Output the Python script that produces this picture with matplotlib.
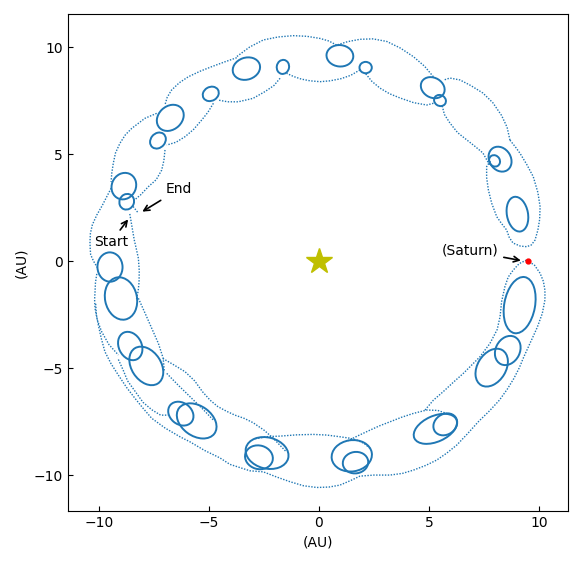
import matplotlib
matplotlib.use("Agg")
import matplotlib.pyplot as plt
from matplotlib.patches import Ellipse

# ---- data (AU) ----
# small solid loops: centre x, centre y, long axis, short axis, tilt of long axis (deg)
loop_x = [-8.87, -8.74, -6.76, -7.32, -4.92, -3.30, -1.64, 0.95, 2.12, 5.17, 5.50, 8.23, 7.98, 9.02,
          -9.50, -9.00, -8.58, -7.85, -6.28, -5.56, -2.73, -2.36, 1.66, 1.49, 5.74, 5.29, 8.58, 7.85, 9.12]
loop_y = [3.50, 2.77, 6.69, 5.63, 7.81, 8.99, 9.07, 9.59, 9.04, 8.10, 7.50, 4.76, 4.68, 2.19,
          -0.28, -1.75, -3.97, -4.90, -7.13, -7.47, -9.17, -8.97, -9.42, -9.10, -7.63, -7.84, -4.18, -4.98, -2.06]
loop_long = [1.26, 0.74, 1.35, 0.80, 0.76, 1.27, 0.66, 1.22, 0.56, 1.14, 0.56, 1.22, 0.55, 1.64,
             1.37, 2.00, 1.38, 1.95, 1.25, 2.00, 1.28, 1.98, 1.16, 1.84, 1.15, 2.10, 1.42, 1.90, 2.66]
loop_short = [1.10, 0.66, 1.08, 0.66, 0.64, 1.02, 0.56, 1.00, 0.53, 0.92, 0.50, 0.98, 0.48, 0.96,
              1.14, 1.45, 1.04, 1.35, 1.00, 1.40, 1.10, 1.45, 1.00, 1.46, 0.95, 1.20, 1.10, 1.30, 1.40]
loop_tilt = [68, 70, 45, 52, 32, 20, 80, -6, 0, -32, -36, -60, -60, 100,
             92, 101, 115, 122, 139, 143, 163, 165, 10, 9, 37, 25, 64, 60, 80]

# dotted arcs (fast parts of the path)
arc_ur_turn = [(8.68, 5.65), (8.95, 5.30), (9.14, 5.03), (9.45, 4.50), (9.74, 3.94), (9.95, 3.20),
               (10.05, 2.54), (10.03, 1.95), (9.95, 1.45), (9.82, 0.98), (9.65, 0.75), (9.44, 0.67),
               (9.15, 0.70), (8.82, 0.84), (8.65, 1.10), (8.53, 1.45), (8.30, 1.75), (8.08, 2.07),
               (7.85, 2.70), (7.70, 3.32), (7.62, 3.90), (7.62, 4.41), (7.80, 4.70)]
arc_b6_b5 = [(8.68, 5.65), (8.55, 6.25), (8.30, 6.80), (7.90, 7.40), (7.45, 7.85), (6.90, 8.20),
             (6.41, 8.46), (5.95, 8.55), (5.65, 8.45)]
arc_b5_b4 = [(5.20, 8.61), (4.80, 9.10), (4.29, 9.55), (3.70, 9.95), (3.08, 10.26), (2.45, 10.38),
             (1.86, 10.36), (1.30, 10.25), (0.80, 10.09)]
arc_b4_b3 = [(0.80, 10.09), (0.45, 10.28), (0.05, 10.40), (-0.55, 10.50), (-1.17, 10.53),
             (-1.85, 10.47), (-2.53, 10.33), (-3.15, 10.00), (-3.74, 9.55)]
arc_b3_b2 = [(-3.74, 9.50), (-4.30, 9.30), (-4.88, 9.08), (-5.40, 8.87), (-5.94, 8.61), (-6.35, 8.33),
             (-6.70, 7.99), (-6.90, 7.65), (-7.00, 7.30)]
arc_b2_b1 = [(-7.38, 6.90), (-7.91, 6.67), (-8.51, 6.20), (-8.80, 5.90), (-9.05, 5.50), (-9.25, 5.05),
             (-9.35, 4.57), (-9.42, 4.10), (-9.45, 3.70)]
arc_b1_l1 = [(-9.45, 3.40), (-9.65, 3.00), (-9.85, 2.60), (-10.10, 2.15), (-10.30, 1.70), (-10.39, 1.30),
             (-10.41, 0.90), (-10.40, 0.60), (-10.38, 0.30), (-10.25, 0.00), (-10.08, -0.30)]
arc_s7_s6 = [(7.75, 4.50), (7.45, 5.05), (7.10, 5.35), (6.73, 5.65), (6.30, 6.00), (5.95, 6.45),
             (5.70, 6.85), (5.60, 7.25)]
arc_s6_s5 = [(5.20, 7.37), (4.90, 7.29), (4.30, 7.40), (3.68, 7.62), (3.20, 7.82), (2.77, 8.08),
             (2.40, 8.40), (2.10, 8.78)]
arc_s5_s4 = [(1.86, 8.93), (1.45, 8.68), (1.00, 8.52), (0.50, 8.42), (0.05, 8.38), (-0.40, 8.42),
             (-0.80, 8.50), (-1.15, 8.62), (-1.47, 8.77)]
arc_s4_s3 = [(-1.77, 8.54), (-2.05, 8.20), (-2.45, 7.92), (-3.00, 7.60), (-3.67, 7.44), (-4.15, 7.44),
             (-4.58, 7.52)]
arc_s3_s2 = [(-4.80, 7.37), (-5.05, 6.95), (-5.33, 6.59), (-5.70, 6.15), (-6.09, 5.81), (-6.50, 5.55),
             (-6.92, 5.42)]
arc_s2_s1 = [(-7.00, 5.19), (-7.05, 4.70), (-7.15, 4.25), (-7.40, 3.80), (-7.76, 3.47), (-8.10, 3.10),
             (-8.39, 2.85)]
arc_end = [(-8.45, 2.55), (-8.22, 2.25)]
arc_start = [(-8.60, 2.20), (-8.50, 1.60), (-8.40, 1.00), (-8.30, 0.55), (-8.21, 0.13), (-8.17, -0.45),
             (-8.18, -1.00), (-8.22, -1.40), (-8.30, -1.80)]
arc_l1_l2_out = [(-10.10, -0.60), (-10.16, -1.00), (-10.18, -1.43), (-10.20, -1.80), (-10.18, -2.21),
                 (-10.08, -2.75), (-9.88, -3.30), (-9.55, -3.90), (-9.12, -4.39)]
arc_outer_low = [(-10.15, -2.00), (-10.12, -2.50), (-10.03, -2.99), (-9.90, -3.60), (-9.73, -4.24),
                 (-9.45, -4.80), (-9.12, -5.33), (-8.75, -5.90), (-8.36, -6.42), (-7.98, -6.90),
                 (-7.60, -7.35), (-7.00, -7.80), (-6.32, -8.21), (-5.86, -8.45), (-5.20, -8.85),
                 (-4.50, -9.20), (-4.05, -9.50), (-3.14, -9.80), (-2.53, -9.85), (-1.90, -10.10),
                 (-1.32, -10.31), (-0.70, -10.50), (-0.10, -10.58), (0.45, -10.56), (0.95, -10.47),
                 (1.45, -10.25), (1.86, -10.05), (2.50, -10.00), (3.23, -10.00), (3.80, -9.92),
                 (4.29, -9.77), (4.85, -9.55), (5.35, -9.30), (5.80, -8.98), (6.26, -8.60),
                 (6.75, -8.07), (7.25, -7.50), (7.75, -7.00), (8.20, -6.50), (8.55, -6.00),
                 (8.85, -5.50), (9.10, -5.00), (9.30, -4.50), (9.50, -4.05), (9.70, -3.60),
                 (9.92, -3.10), (10.15, -2.45), (10.27, -1.82), (10.27, -1.36), (10.20, -0.95),
                 (10.05, -0.57), (9.80, -0.20), (9.44, 0.05)]
arc_l2_l3_out = [(-9.12, -4.60), (-8.90, -5.10), (-8.70, -5.60), (-8.35, -6.10), (-8.00, -6.60),
                 (-7.60, -6.95), (-7.20, -7.20), (-6.85, -7.20)]
arc_l1_l2_in = [(-8.21, -1.74), (-7.90, -2.45), (-7.60, -3.15), (-7.30, -3.85), (-7.08, -4.55),
                (-7.03, -5.17)]
arc_l2_l4_in = [(-7.10, -4.55), (-6.60, -4.85), (-6.09, -5.17), (-5.65, -5.60), (-5.30, -6.10),
                (-4.95, -6.50), (-4.60, -6.80), (-4.20, -7.02), (-3.82, -7.20), (-3.40, -7.35),
                (-3.00, -7.55), (-2.50, -7.90), (-2.09, -8.27), (-1.50, -8.90)]
arc_l2_l3_in = [(-6.92, -5.25), (-6.40, -5.80), (-5.86, -6.34), (-5.30, -6.90), (-4.80, -7.43)]
arc_l4_l5_in = [(-2.90, -8.30), (-2.30, -8.20), (-1.77, -8.18), (-1.00, -8.12), (-0.26, -8.10),
                (0.35, -8.13), (0.95, -8.21), (1.35, -8.27), (1.71, -8.36), (2.05, -8.52), (2.32, -8.75)]
arc_l5_l6_in = [(1.30, -8.40), (1.80, -8.15), (2.32, -7.90), (2.75, -7.70), (3.23, -7.51), (3.75, -7.30),
                (4.29, -7.12), (4.90, -6.96), (5.40, -6.98), (5.80, -7.12)]
arc_l6_sat_in = [(4.82, -6.96), (5.20, -6.50), (5.65, -6.10), (6.10, -5.67), (6.56, -5.25), (6.95, -4.85),
                 (7.32, -4.47), (7.77, -3.85), (8.10, -3.20), (8.23, -2.60), (8.30, -1.90), (8.45, -1.20),
                 (8.60, -0.75), (8.83, -0.42), (9.10, -0.12), (9.44, 0.05)]

arcs = [arc_ur_turn, arc_b6_b5, arc_b5_b4, arc_b4_b3, arc_b3_b2, arc_b2_b1, arc_b1_l1,
        arc_s7_s6, arc_s6_s5, arc_s5_s4, arc_s4_s3, arc_s3_s2, arc_s2_s1, arc_end, arc_start,
        arc_l1_l2_out, arc_outer_low, arc_l2_l3_out, arc_l1_l2_in, arc_l2_l4_in, arc_l2_l3_in,
        arc_l4_l5_in, arc_l5_l6_in, arc_l6_sat_in]

sun = (0.0, 0.0)
saturn = (9.5, 0.0)
start_pt = (-8.60, 2.05)
end_pt = (-8.14, 2.24)

# ---- drawing ----
fig = plt.figure(figsize=(5.82, 5.62), dpi=100)
ax = fig.add_axes([0.1168, 0.0907, 0.8592, 0.8843])
c = "#1f77b4"

for arc in arcs:
    xs = [p[0] for p in arc]
    ys = [p[1] for p in arc]
    ax.plot(xs, ys, color=c, lw=1.0, linestyle=(0, (1, 1.1)))

for x, y, L, S, t in zip(loop_x, loop_y, loop_long, loop_short, loop_tilt):
    ax.add_patch(Ellipse((x, y), L, S, angle=t, fill=False, edgecolor=c, lw=1.4))

ax.plot(*sun, marker="*", color="y", markersize=19, linestyle="none")
ax.plot(*saturn, marker="o", color="red", markersize=3.5, linestyle="none")

ap = dict(arrowstyle="->", color="k", lw=1.2)
ax.annotate("Start", xy=start_pt, xytext=(-9.45, 0.89), ha="center", va="center",
            fontsize=10, arrowprops=ap)
ax.annotate("End", xy=end_pt, xytext=(-6.36, 3.36), ha="center", va="center",
            fontsize=10, arrowprops=ap)
ax.annotate("(Saturn)", xy=(9.3, 0.0), xytext=(6.86, 0.47), ha="center", va="center",
            fontsize=10, arrowprops=ap)

ax.set_xlim(-11.41, 11.32)
ax.set_ylim(-11.68, 11.54)
ax.set_xticks([-10, -5, 0, 5, 10])
ax.set_yticks([-10, -5, 0, 5, 10])
ax.tick_params(direction="in", labelsize=10)
ax.set_xlabel("(AU)", fontsize=10)
ax.set_ylabel("(AU)", fontsize=10)

fig.savefig("out.png", dpi=100)
